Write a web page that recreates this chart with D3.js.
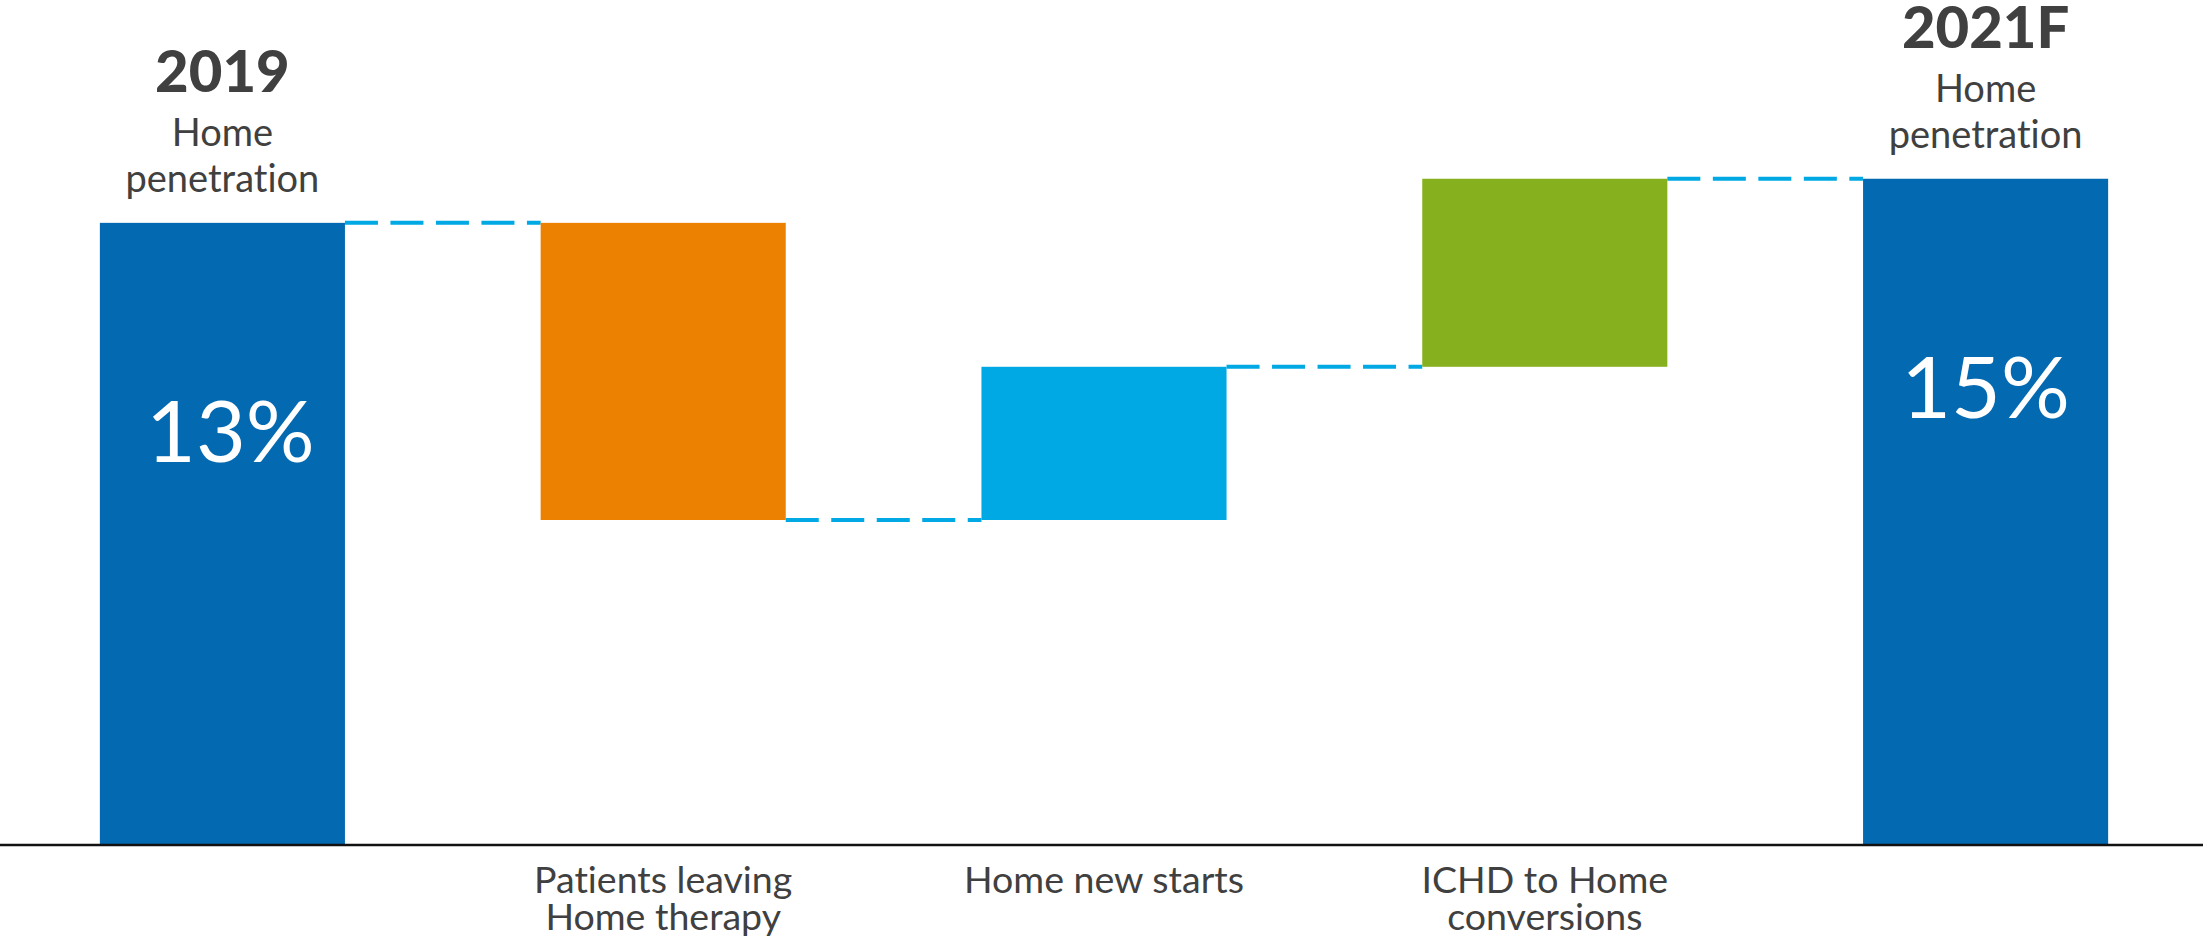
<!DOCTYPE html>
<html>
<head>
<meta charset="utf-8">
<script src="https://cdn.jsdelivr.net/npm/d3@7"></script>
<style>
  html, body { margin: 0; padding: 0; background: #ffffff; }
  svg { display: block; }
  text { font-family: Lato, "Open Sans", sans-serif; font-variant-ligatures: none; font-feature-settings: "liga" 0, "clig" 0; }
</style>
</head>
<body>
<svg id="chart" width="2203" height="944"></svg>
<script>
// ---- data ----
const categories = ["2019", "Patients leaving Home therapy", "Home new starts", "ICHD to Home conversions", "2021F"];
const barTypes = ["total", "delta", "delta", "delta", "total"];
const values = [13.4, -6.4, 3.3, 4.05, 14.35];
const valueLabels = ["13%", "", "", "", "15%"];
const headLabels = ["2019", "", "", "", "2021F"];
const subLabels = [["Home", "penetration"], [], [], [], ["Home", "penetration"]];
const axisLabels = [[], ["Patients leaving", "Home therapy"], ["Home new starts"], ["ICHD to Home", "conversions"], []];
const colors = ["#0369B1", "#EC8000", "#00A9E4", "#86B01D", "#0369B1"];

// ---- layout ----
const W = 2203, H = 944;
const baseY = 845;
const svg = d3.select("#chart");

const x = d3.scaleBand().domain(categories).range([2, 2206]).paddingInner(0.444).paddingOuter(0.222);
const y = d3.scaleLinear().domain([0, 18.2]).range([baseY, 0]);

// compute waterfall extents
let running = 0;
const bars = categories.map((c, i) => {
  let lo, hi, level;
  if (barTypes[i] === "total") {
    lo = 0; hi = values[i]; running = values[i]; level = values[i];
  } else {
    const start = running;
    running = running + values[i];
    lo = Math.min(start, running); hi = Math.max(start, running); level = running;
  }
  return { c, i, lo, hi, level };
});

// connectors
const conn = [];
for (let i = 0; i < bars.length - 1; i++) {
  conn.push({ x1: x(categories[i]) + x.bandwidth(), x2: x(categories[i + 1]), v: bars[i].level });
}
svg.append("g").selectAll("line").data(conn).join("line")
  .attr("x1", d => d.x1).attr("x2", d => d.x2)
  .attr("y1", d => y(d.v)).attr("y2", d => y(d.v))
  .attr("stroke", "#00A9E4").attr("stroke-width", 4)
  .attr("stroke-dasharray", "33,12.5");

// bars
svg.append("g").selectAll("rect").data(bars).join("rect")
  .attr("x", d => x(d.c)).attr("width", x.bandwidth())
  .attr("y", d => y(d.hi)).attr("height", d => y(d.lo) - y(d.hi))
  .attr("fill", d => colors[d.i]);

// axis baseline
const axis = d3.axisBottom(x).tickSize(0).tickFormat("");
const axG = svg.append("g").attr("transform", `translate(0,${baseY})`).call(axis);
axG.select(".domain").remove();
svg.append("line").attr("x1", 0).attr("x2", W).attr("y1", baseY).attr("y2", baseY)
  .attr("stroke", "#111111").attr("stroke-width", 2.5);

// category labels below axis
const cx = c => x(c) + x.bandwidth() / 2;
bars.forEach(d => {
  axisLabels[d.i].forEach((t, k) => {
    svg.append("text").attr("x", cx(d.c)).attr("y", 893 + k * 37)
      .attr("text-anchor", "middle").attr("font-size", 37.5).attr("fill", "#404040").text(t);
  });
});

// head labels above total bars
bars.forEach(d => {
  if (!headLabels[d.i]) return;
  const top = y(d.hi);
  svg.append("text").attr("x", cx(d.c)).attr("y", top - 131)
    .attr("text-anchor", "middle").attr("font-size", 58).attr("font-weight", 900)
    .attr("fill", "#404040").text(headLabels[d.i]);
  subLabels[d.i].forEach((t, k) => {
    svg.append("text").attr("x", cx(d.c)).attr("y", top - 77 + k * 46)
      .attr("text-anchor", "middle").attr("font-size", 38).attr("fill", "#404040").text(t);
  });
  svg.append("text").attr("x", cx(d.c) + (d.i === 0 ? 8 : 0)).attr("y", top + 239)
    .attr("text-anchor", "middle").attr("font-size", 86).attr("font-weight", 400)
    .attr("fill", "#ffffff").text(valueLabels[d.i]);
});
</script>
</body>
</html>
